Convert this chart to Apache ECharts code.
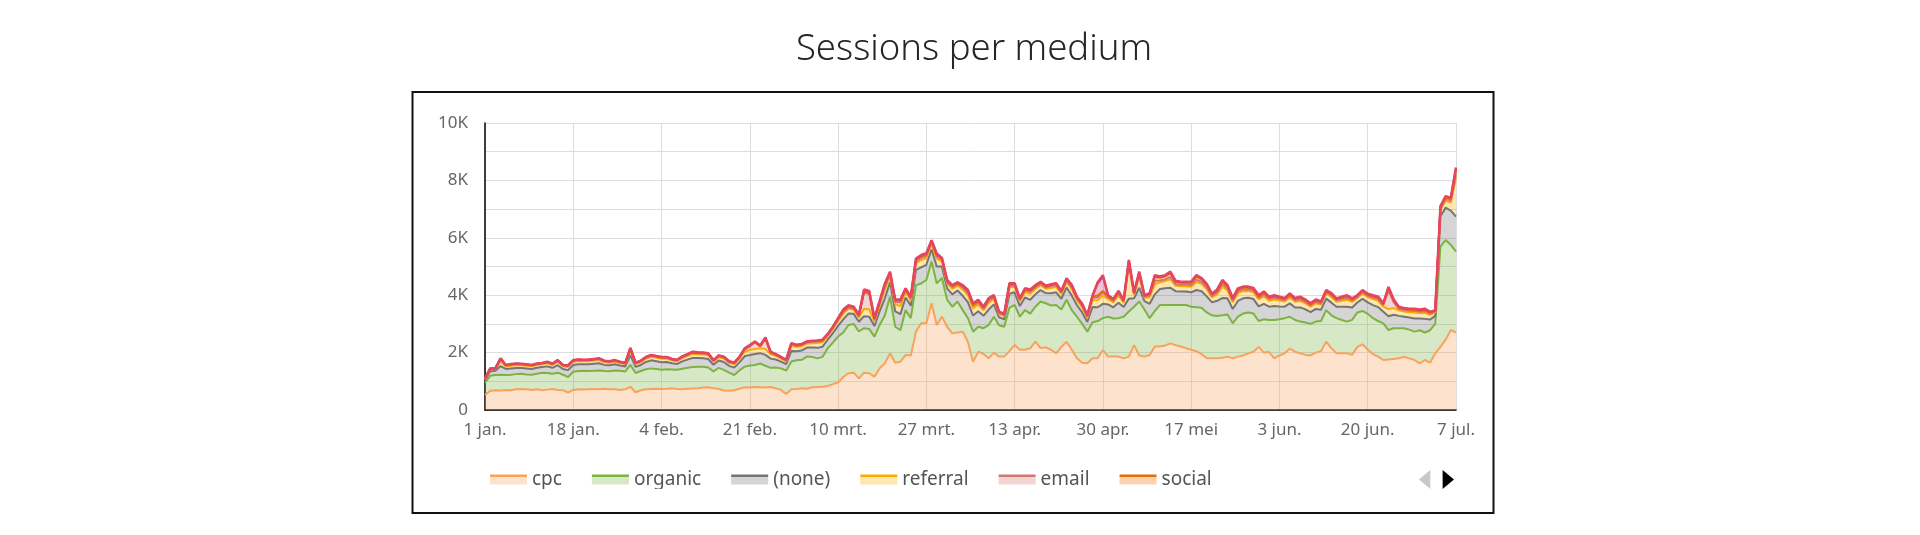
<!DOCTYPE html>
<html>
<head>
<meta charset="utf-8">
<script src="https://cdn.jsdelivr.net/npm/echarts@6/dist/echarts.min.js"></script>
<style>
  html, body { margin: 0; padding: 0; background: #ffffff; }
  #chart { width: 1920px; height: 535px; }
</style>
</head>
<body>
<div id="chart"></div>
<script>
// ---- Category labels (daily, 1 jan. .. 7 jul.) ----
const monthNames = ['jan.', 'feb.', 'mrt.', 'apr.', 'mei', 'jun.', 'jul.'];
const monthDays = [31, 28, 31, 30, 31, 30, 31];
const dayCount = 188;
const categories = [];
for (let m = 0; m < monthNames.length && categories.length < dayCount; m++) {
  for (let d = 1; d <= monthDays[m] && categories.length < dayCount; d++) {
    categories.push(d + ' ' + monthNames[m]);
  }
}

const seriesNames = ['cpc', 'organic', '(none)', 'referral', 'email', 'social', '(not set)', 'affiliate'];

const cpc = [520,670,690,680,700,690,720,730,720,700,
720,690,710,730,700,690,610,700,720,710,
720,730,720,740,720,720,700,720,810,620,
690,720,730,740,730,740,760,730,720,740,
750,760,780,790,760,740,680,670,690,740,
790,780,800,790,780,800,760,700,560,720,
730,760,740,790,800,810,840,900,960,1150,
1280,1300,1100,1300,1280,1160,1450,1626,1974,1650,
1684,1916,1900,2730,3020,3020,3720,2960,3250,2900,
2670,2700,2730,2380,1684,2032,1950,1800,2000,1860,
1860,2050,2264,2100,2100,2150,2380,2160,2180,2100,
1974,2200,2380,2100,1800,1650,1626,1800,1800,2090,
1860,1860,1860,1800,1860,2260,1900,1860,1916,2210,
2210,2250,2320,2260,2210,2150,2100,2050,1950,1800,
1800,1800,1820,1860,1800,1860,1900,1974,2032,2200,
2000,2020,1800,1900,1974,2140,2030,1974,1920,1900,
2000,2050,2380,2150,1974,1974,1974,1920,2200,2290,
2100,1950,1858,1742,1760,1780,1800,1858,1800,1742,
1626,1742,1650,1974,2200,2450,2787,2700];

const organic = [430,520,530,550,520,540,530,530,520,530,
540,610,580,530,600,540,540,630,640,660,
640,640,660,620,630,660,670,620,760,670,
670,700,720,690,670,680,650,670,720,730,
750,750,730,690,580,730,720,630,530,640,
720,770,770,830,760,670,720,750,810,970,
1000,990,1120,1060,1000,1040,1310,1450,1600,1550,
1680,1700,1635,1550,1540,1395,1510,1664,1976,1250,
1096,1564,1300,1620,1390,1510,1450,1450,1350,940,
930,1080,750,820,1046,868,900,1160,1250,1090,
1040,1510,1396,1150,1380,1210,1220,1620,1540,1540,
1686,1300,1460,1380,1450,1350,1104,1260,1300,1110,
1390,1330,1340,1450,1570,1340,1880,1640,1284,1240,
1450,1410,1340,1400,1450,1510,1500,1530,1610,1600,
1500,1475,1480,1470,1220,1390,1460,1426,1328,900,
1160,1120,1335,1260,1226,1110,1105,1106,1130,1100,
1080,1050,1100,1150,1226,1161,1106,1220,1200,1160,
1250,1250,1242,1278,1027,1070,1050,992,1000,988,
1154,958,1130,1026,3490,3470,2963,2820];

const none = [90,160,150,300,210,220,215,205,210,200,
215,200,230,210,260,200,240,240,235,225,
236,242,248,212,206,212,182,176,340,212,
210,255,280,268,265,255,218,206,254,285,
315,298,290,298,236,255,272,236,255,280,
360,370,380,360,380,320,280,236,225,370,
320,325,315,330,365,355,298,325,370,460,
400,350,340,420,430,370,480,600,500,540,
560,440,430,530,560,530,430,590,400,400,
430,385,500,560,560,540,430,540,430,280,
260,490,440,370,440,480,430,400,355,425,
440,375,430,505,400,400,335,530,480,500,
430,390,540,340,450,290,480,290,500,580,
560,580,600,480,470,470,500,600,580,560,
450,530,600,560,500,550,530,510,505,510,
540,460,490,450,400,465,435,495,455,410,
440,390,400,440,395,465,520,430,345,420,
400,455,485,400,480,470,430,400,420,455,
410,475,370,280,1050,1130,1200,1220];

const referral = [30,60,55,180,90,95,100,95,90,92,
92,90,105,98,120,92,112,112,108,102,
106,110,112,96,94,96,84,82,170,96,
98,115,125,120,122,115,100,94,116,128,
140,132,130,132,106,115,122,106,115,125,
160,170,180,170,210,150,125,106,102,190,
145,148,140,150,168,160,132,148,175,200,
170,145,140,260,250,160,210,300,220,240,
280,190,190,235,250,235,190,265,175,170,
190,165,220,245,250,235,190,235,190,115,
110,220,190,158,190,210,190,170,148,187,
190,160,190,222,175,175,140,235,250,280,
190,168,240,142,1150,120,400,120,220,350,
230,250,300,190,180,180,195,280,255,245,
170,220,400,280,230,270,250,240,235,240,
260,210,225,205,180,210,200,225,208,188,
200,175,180,200,178,210,240,195,155,188,
180,208,220,180,250,230,195,180,188,208,
188,215,165,120,220,250,280,1350];

const email = [15,20,18,50,28,30,30,28,27,26,
30,28,32,30,35,26,32,32,32,30,
32,32,34,30,28,30,25,24,45,30,
30,34,36,35,36,34,30,28,34,38,
42,40,40,40,32,34,37,32,34,36,
80,130,220,60,350,55,36,32,30,45,
42,43,42,45,50,48,40,43,55,60,
50,45,45,560,540,50,65,100,70,80,
130,60,60,75,85,75,60,85,58,50,
60,55,70,80,85,75,60,75,60,40,
38,70,60,52,60,65,60,50,48,60,
60,52,60,70,58,58,45,75,100,110,
60,55,80,47,80,40,70,40,70,120,
60,60,80,55,55,55,60,80,70,70,
50,65,90,70,60,65,62,60,60,60,
65,55,60,55,50,55,52,60,55,50,
52,48,50,52,48,55,65,52,42,50,
50,55,58,50,650,200,52,50,50,55,
50,57,45,35,60,60,70,120];

const social = [8,10,9,20,12,13,13,12,13,12,
12,12,13,12,14,12,14,14,14,13,
14,14,14,12,12,12,11,10,20,12,
12,14,16,15,15,14,12,12,14,16,
18,16,16,16,14,14,16,14,14,16,
20,20,22,22,25,20,16,14,13,20,
18,18,18,19,21,21,16,18,22,40,
35,30,30,50,50,35,45,55,45,50,
55,40,40,50,50,50,40,55,38,35,
40,35,45,50,50,50,40,50,40,25,
25,45,40,32,40,45,40,35,32,40,
40,35,40,48,38,38,30,50,60,60,
40,37,50,33,70,28,55,28,45,130,
100,105,125,80,70,70,75,110,90,80,
45,70,90,70,55,65,60,55,55,55,
65,50,55,45,40,50,45,55,47,42,
45,40,40,45,40,50,55,43,35,42,
40,47,50,40,70,60,43,40,42,47,
42,48,35,25,50,55,65,170];

const notSet = [4,6,5,12,6,7,7,6,6,6,
7,6,6,6,7,6,8,8,7,6,
8,8,8,6,6,6,5,5,10,6,
6,8,8,8,8,8,6,6,8,8,
10,9,9,9,8,8,8,8,8,8,
12,12,10,10,15,10,8,8,6,10,
10,10,10,10,10,10,9,10,12,25,
20,18,18,35,35,18,25,35,20,25,
30,18,18,25,28,25,18,28,17,20,
18,18,20,28,28,25,18,25,18,12,
10,20,18,16,18,25,18,20,16,17,
18,16,18,20,17,17,18,25,420,500,
18,18,25,16,30,13,20,13,20,45,
25,28,35,20,20,20,25,30,28,28,
20,25,30,25,20,25,23,20,20,20,
25,20,20,20,18,20,20,20,20,18,
20,17,18,20,17,20,25,18,15,18,
18,20,22,18,30,25,18,18,18,20,
18,20,15,12,20,25,25,45];

const affiliate = [3,4,3,8,4,5,5,4,4,4,
4,4,4,4,4,4,4,4,4,4,
4,4,4,4,4,4,3,3,5,4,
4,4,5,4,4,4,4,4,4,5,
5,5,5,5,4,4,5,4,4,5,
8,8,8,8,10,5,5,4,4,5,
5,6,5,6,6,6,5,6,6,15,
15,12,12,25,25,12,15,20,15,15,
15,12,12,15,17,15,12,17,12,15,
12,12,15,17,17,15,12,15,12,8,
7,15,12,12,12,15,12,15,11,11,
12,12,12,15,12,12,12,15,40,50,
12,12,15,12,20,9,15,9,15,25,
15,17,20,15,15,15,15,20,17,17,
15,15,20,15,15,15,15,15,15,15,
15,15,15,15,12,15,13,15,15,12,
13,10,12,13,12,15,15,12,8,12,
12,15,15,12,20,15,12,12,12,15,
12,15,10,8,10,10,10,25];

const seriesData = [cpc, organic, none, referral, email, social, notSet, affiliate];
const lineColors = ['#f8a25b', '#7cb342', '#757575', '#f9ab00', '#d0776f', '#ea6c00', '#c2378f', '#e8455d'];
const fillColors = ['#fde2cd', '#d7e8c6', '#d5d5d5', '#fde6b2', '#f2d4d2', '#f9d2b2', '#eec3dd', '#f8c7ce'];

const FONT = 'Noto Sans';

const chart = echarts.init(document.getElementById('chart'), null, { renderer: 'canvas' });

const legendData = seriesNames.map((n, i) => ({
  name: n,
  icon: 'rect',
  itemStyle: {
    color: new echarts.graphic.LinearGradient(0, 0, 0, 1, [
      { offset: 0, color: lineColors[i] },
      { offset: 0.28, color: lineColors[i] },
      { offset: 0.28, color: fillColors[i] },
      { offset: 1, color: fillColors[i] }
    ]),
    borderWidth: 0
  }
}));

const option = {
  animation: false,
  backgroundColor: '#ffffff',
  title: {
    text: 'Sessions per medium',
    left: 969,
    top: 26,
    textAlign: 'center',
    textStyle: { fontFamily: FONT, fontSize: 36.5, fontWeight: 300, color: '#262626' }
  },
  grid: { left: 485, right: 464, top: 123, bottom: 125, containLabel: false },
  xAxis: {
    type: 'category',
    data: categories,
    boundaryGap: false,
    axisLine: { show: true, lineStyle: { color: '#000000', width: 1.5 } },
    axisTick: { show: false },
    axisLabel: { interval: 16, color: '#666666', fontSize: 17, fontFamily: FONT, margin: 12 },
    splitLine: { show: true, interval: 16, lineStyle: { color: '#dddddd', width: 1 } }
  },
  yAxis: {
    type: 'value',
    min: 0,
    max: 10000,
    interval: 1000,
    axisLine: { show: true, lineStyle: { color: '#000000', width: 1.5 } },
    axisTick: { show: false },
    axisLabel: {
      color: '#666666', fontSize: 17, fontFamily: FONT, margin: 17,
      formatter: function (v) { return v % 2000 === 0 ? (v === 0 ? '0' : (v / 1000) + 'K') : ''; }
    },
    splitLine: { show: true, lineStyle: { color: '#dddddd', width: 1 } }
  },
  legend: {
    type: 'scroll',
    orient: 'horizontal',
    left: 485,
    top: 465,
    width: 964,
    itemWidth: 37,
    itemHeight: 10,
    itemGap: 30,
    textStyle: { color: '#555555', fontSize: 19, fontFamily: FONT },
    pageButtonItemGap: 5,
    pageButtonGap: 180,
    pageIconColor: '#000000',
    pageIconInactiveColor: '#c8c8c8',
    pageIconSize: [18, 19],
    pageFormatter: ' ',
    pageTextStyle: { fontSize: 1, color: 'rgba(0,0,0,0)' },
    data: legendData
  },
  graphic: [{
    type: 'rect',
    silent: true,
    z: 100,
    shape: { x: 412.5, y: 92, width: 1081, height: 421 },
    style: { fill: null, stroke: '#111111', lineWidth: 2 }
  }],
  series: seriesNames.map((n, i) => ({
    name: n,
    type: 'line',
    stack: 'total',
    data: seriesData[i],
    symbol: 'none',
    showSymbol: false,
    smooth: false,
    lineStyle: { color: lineColors[i], width: i === seriesNames.length - 1 ? 2.5 : 2 },
    itemStyle: { color: lineColors[i] },
    areaStyle: { color: lineColors[i], opacity: 0.3 },
    emphasis: { disabled: true }
  }))
};

chart.setOption(option);
</script>
</body>
</html>
